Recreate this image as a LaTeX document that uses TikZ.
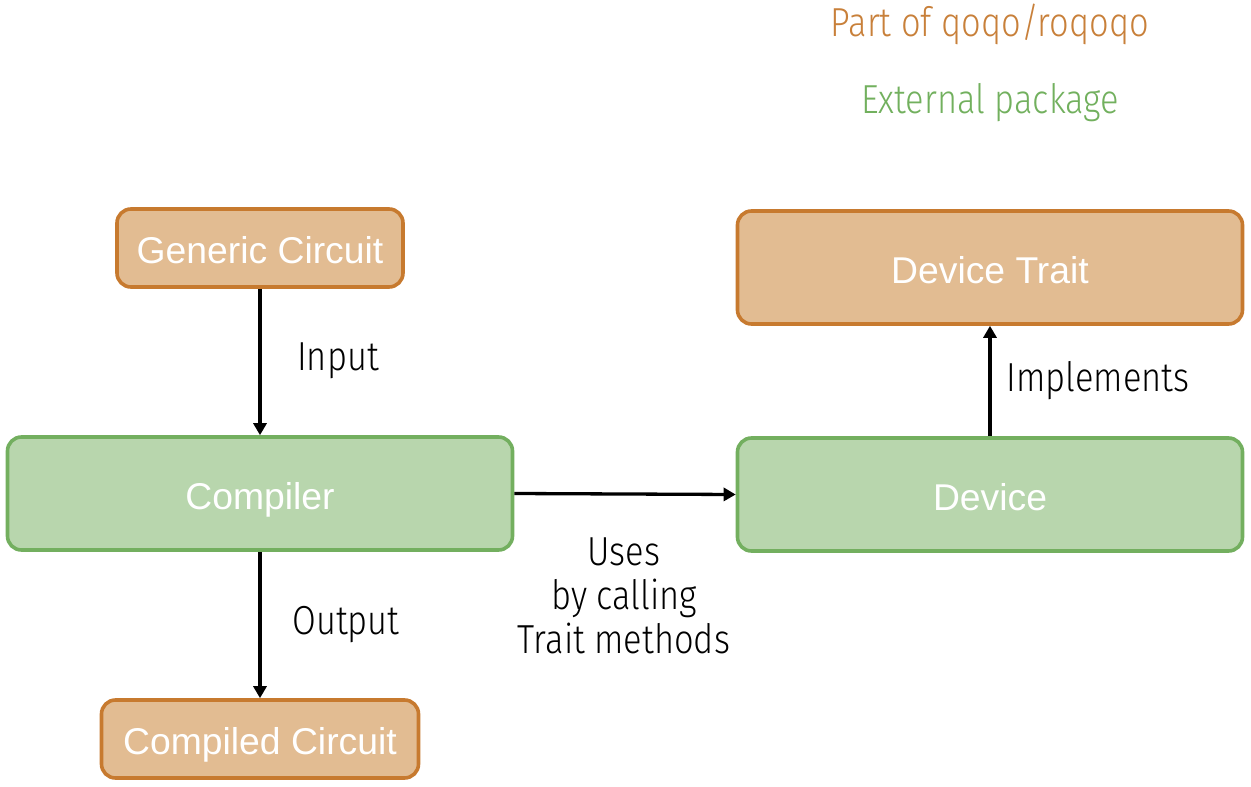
\documentclass[tikz,border=0pt]{standalone}
\usepackage{fontspec}
\usetikzlibrary{arrows.meta}
\setmainfont{Liberation Sans}
\newfontfamily\lblfont[FakeStretch=0.85]{Fira Sans Light}
\definecolor{orfill}{HTML}{E2BC92}
\definecolor{orline}{HTML}{C77A2F}
\definecolor{grfill}{HTML}{B8D6AD}
\definecolor{grline}{HTML}{73AF5F}
\definecolor{ortext}{HTML}{C8803A}
\definecolor{grtext}{HTML}{72B05E}
\begin{document}
\begin{tikzpicture}[x=1pt,y=-1pt,
  box/.style={draw, line width=3.6pt, rounded corners=14pt, inner sep=0pt, text=white,
    text height=31pt, text depth=0pt,
    font=\fontsize{37.3}{44}\selectfont},
  orbox/.style={box, fill=orfill, draw=orline},
  grbox/.style={box, fill=grfill, draw=grline},
  lbl/.style={font=\lblfont\fontsize{40.5}{44}\selectfont, text=black, inner sep=0pt, align=center},
  conn/.style={draw=black, line width=3.3pt, -{Triangle[length=12pt,width=13pt]}, shorten >=0pt}
]
\useasboundingbox (0,0) rectangle (1251,787);
\node[orbox, minimum width=286pt, minimum height=78pt] (gen) at (260,248) {Generic Circuit};
\node[grbox, minimum width=505pt, minimum height=113pt] (comp) at (260,493.5) {Compiler};
\node[orbox, minimum width=317pt, minimum height=78pt] (cc) at (260,739) {Compiled Circuit};
\node[orbox, minimum width=505pt, minimum height=113pt] (dt) at (990,267.5) {Device Trait};
\node[grbox, minimum width=505pt, minimum height=113pt] (dev) at (990,494.5) {Device};

\draw[conn] (gen.south) -- (comp.north);
\draw[conn] (comp.south) -- (cc.north);
\draw[conn] (comp.east) -- (dev.west);
\draw[conn] (dev.north) -- (dt.south);

\node[lbl] (lin) at (338,361) {Input};
\node[lbl] (lout) at (346,625) {Output};
\node[lbl] (limp) at (1098,381) {Implements};
\node[lbl] (luse) at (624,596) {Uses\\by calling\\Trait methods};

\node[lbl, text=ortext] (leg1) at (990,24) {Part of qoqo/roqoqo};
\node[lbl, text=grtext] (leg2) at (990,103) {External package};
\end{tikzpicture}
\end{document}
